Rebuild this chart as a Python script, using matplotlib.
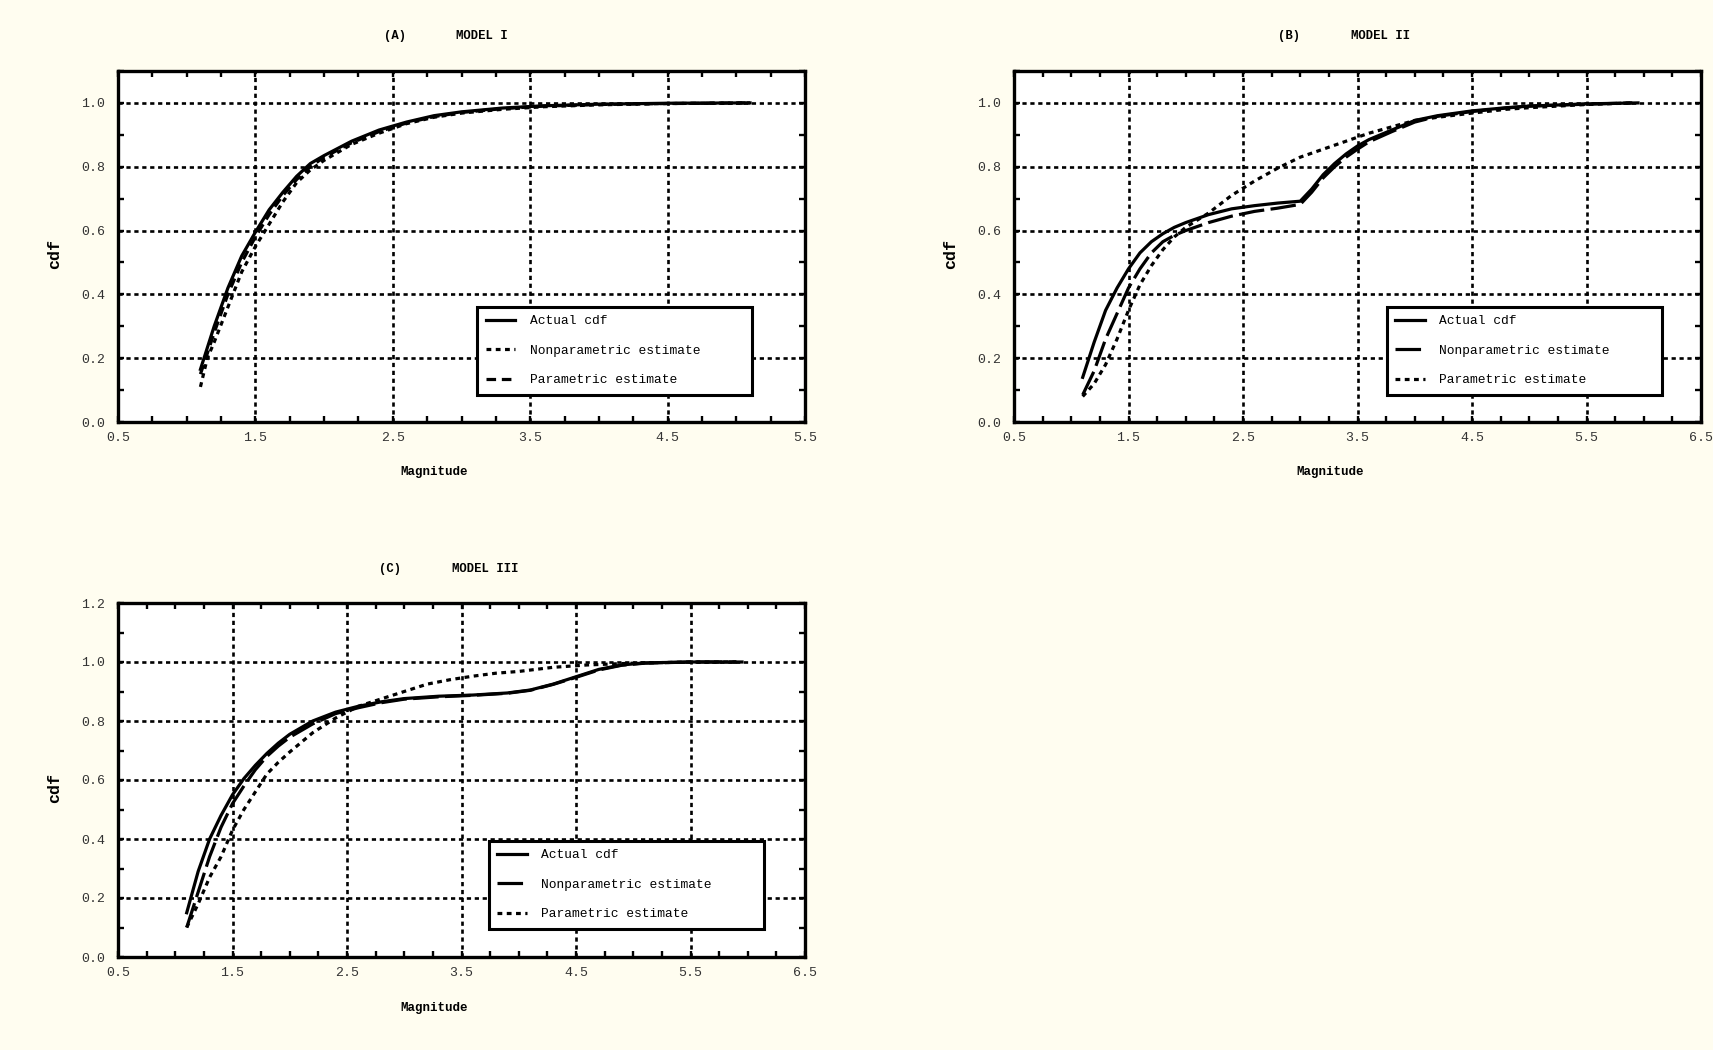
import matplotlib.pyplot as plt
from matplotlib.ticker import MultipleLocator, FixedLocator

# Panel (A) MODEL I
xa_act = [1.1, 1.2, 1.3, 1.4, 1.5, 1.6, 1.7, 1.8, 1.9, 2.0, 2.2, 2.4, 2.6, 2.8, 3.0, 3.3, 3.6, 4.0, 4.5, 5.1]
ya_act = [0.165, 0.30, 0.42, 0.52, 0.595, 0.665, 0.72, 0.77, 0.81, 0.835, 0.88, 0.915, 0.94, 0.96, 0.972, 0.984, 0.991, 0.996, 0.999, 1.0]
xa_np = [1.1, 1.15, 1.2, 1.3, 1.4, 1.5, 1.6, 1.7, 1.8, 1.9, 2.0, 2.2, 2.4, 2.6, 2.8, 3.0, 3.3, 3.6, 4.0, 4.5, 5.1]
ya_np = [0.11, 0.20, 0.25, 0.36, 0.47, 0.55, 0.62, 0.69, 0.75, 0.79, 0.82, 0.87, 0.905, 0.935, 0.955, 0.968, 0.98, 0.988, 0.994, 0.998, 1.0]
xa_par = [1.1, 1.2, 1.3, 1.4, 1.5, 1.6, 1.7, 1.8, 1.9, 2.0, 2.2, 2.4, 2.6, 2.8, 3.0, 3.3, 3.6, 4.0, 4.5, 5.1]
ya_par = [0.15, 0.28, 0.40, 0.50, 0.58, 0.65, 0.71, 0.76, 0.80, 0.83, 0.875, 0.91, 0.937, 0.957, 0.97, 0.982, 0.99, 0.995, 0.998, 1.0]

# Panel (B) MODEL II
xb_act = [1.1, 1.2, 1.3, 1.4, 1.5, 1.6, 1.7, 1.8, 1.9, 2.0, 2.2, 2.4, 2.6, 2.8, 3.0, 3.1, 3.2, 3.3, 3.4, 3.5, 3.6, 3.8, 4.0, 4.2, 4.5, 4.8, 5.0, 5.5, 5.95]
yb_act = [0.14, 0.25, 0.35, 0.42, 0.48, 0.53, 0.565, 0.59, 0.61, 0.625, 0.65, 0.668, 0.678, 0.686, 0.692, 0.73, 0.775, 0.81, 0.84, 0.865, 0.885, 0.915, 0.945, 0.96, 0.975, 0.985, 0.99, 0.997, 1.0]
xb_np = [1.1, 1.2, 1.3, 1.4, 1.5, 1.6, 1.7, 1.8, 1.9, 2.0, 2.2, 2.4, 2.6, 2.8, 3.0, 3.1, 3.2, 3.3, 3.4, 3.5, 3.6, 3.8, 4.0, 4.2, 4.5, 4.8, 5.0, 5.5, 5.9]
yb_np = [0.085, 0.16, 0.26, 0.34, 0.42, 0.48, 0.53, 0.565, 0.585, 0.60, 0.625, 0.645, 0.66, 0.67, 0.682, 0.72, 0.765, 0.80, 0.83, 0.855, 0.878, 0.91, 0.94, 0.958, 0.973, 0.984, 0.99, 0.996, 1.0]
xb_par = [1.1, 1.2, 1.3, 1.4, 1.5, 1.6, 1.7, 1.8, 1.9, 2.0, 2.2, 2.4, 2.6, 2.8, 3.0, 3.2, 3.4, 3.6, 3.8, 4.0, 4.2, 4.5, 4.8, 5.0, 5.5, 5.9]
yb_par = [0.08, 0.12, 0.18, 0.26, 0.35, 0.43, 0.49, 0.54, 0.58, 0.61, 0.655, 0.71, 0.755, 0.795, 0.83, 0.855, 0.88, 0.905, 0.925, 0.945, 0.955, 0.968, 0.98, 0.985, 0.995, 1.0]

# Panel (C) MODEL III
xc_act = [1.1, 1.2, 1.3, 1.4, 1.5, 1.6, 1.7, 1.8, 1.9, 2.0, 2.2, 2.4, 2.6, 2.8, 3.0, 3.3, 3.6, 3.9, 4.1, 4.3, 4.5, 4.7, 4.9, 5.1, 5.5, 5.95]
yc_act = [0.15, 0.29, 0.40, 0.48, 0.55, 0.605, 0.65, 0.69, 0.725, 0.755, 0.80, 0.83, 0.85, 0.865, 0.876, 0.884, 0.888, 0.895, 0.905, 0.925, 0.95, 0.975, 0.99, 0.997, 1.0, 1.0]
xc_np = [1.1, 1.2, 1.3, 1.4, 1.5, 1.6, 1.7, 1.8, 1.9, 2.0, 2.2, 2.4, 2.6, 2.8, 3.0, 3.3, 3.6, 3.9, 4.1, 4.3, 4.5, 4.7, 4.9, 5.1, 5.5, 5.9]
yc_np = [0.10, 0.22, 0.34, 0.44, 0.52, 0.58, 0.635, 0.68, 0.715, 0.745, 0.79, 0.825, 0.845, 0.862, 0.874, 0.882, 0.887, 0.894, 0.904, 0.924, 0.948, 0.973, 0.989, 0.996, 1.0, 1.0]
xc_par = [1.1, 1.2, 1.3, 1.4, 1.5, 1.6, 1.7, 1.8, 1.9, 2.0, 2.2, 2.4, 2.6, 2.8, 3.0, 3.2, 3.4, 3.6, 3.8, 4.0, 4.3, 4.6, 5.0, 5.5, 5.9]
yc_par = [0.10, 0.18, 0.27, 0.34, 0.43, 0.50, 0.56, 0.62, 0.66, 0.695, 0.76, 0.81, 0.85, 0.875, 0.90, 0.925, 0.94, 0.952, 0.962, 0.968, 0.982, 0.99, 0.996, 1.0, 1.0]

labels = ['Actual cdf', 'Nonparametric estimate', 'Parametric estimate']

MONO = 'Liberation Mono'
BG = '#FFFDF0'

dotted = (0, (1.5, 1.4))
short_dash = (0, (3.0, 1.8))
long_dash = (0, (8.0, 2.0))

fig = plt.figure(figsize=(17.13, 10.5), dpi=100, facecolor=BG)


def style_axes(ax, xmax, ymax, ytop, tag, model, tx, mx, ty, leg_x):
    ax.set_facecolor('white')
    ax.set_xlim(0.5, xmax)
    ax.set_ylim(0.0, ymax)
    ax.xaxis.set_major_locator(FixedLocator([0.5 + i for i in range(int(xmax - 0.5) + 1)]))
    ax.yaxis.set_major_locator(FixedLocator([round(0.2 * i, 1) for i in range(int(round(ytop / 0.2)) + 1)]))
    ax.xaxis.set_minor_locator(MultipleLocator(0.25))
    ax.yaxis.set_minor_locator(MultipleLocator(0.1))
    ax.set_xticklabels([f'{0.5 + i:.1f}' for i in range(int(xmax - 0.5) + 1)])
    ax.set_yticklabels([f'{0.2 * i:.1f}' for i in range(int(round(ytop / 0.2)) + 1)])
    ax.tick_params(which='both', direction='in', top=True, right=True,
                   length=4, width=1.7, color='black')
    ax.tick_params(axis='x', which='major', pad=7, labelsize=9.5, labelcolor='#333333')
    ax.tick_params(axis='y', which='major', pad=9, labelsize=9.5, labelcolor='#333333')
    for lab in ax.get_xticklabels() + ax.get_yticklabels():
        lab.set_family(MONO)
    for s in ax.spines.values():
        s.set_linewidth(2.4)
    ax.grid(True, which='major', color='black', linestyle=(0, (1.6, 1.4)), linewidth=1.9)
    ax.set_axisbelow(True)

    ax.text(tx, ty, tag, transform=ax.transAxes, ha='center', va='center',
            family=MONO, fontsize=8.8, fontweight='bold')
    ax.text(mx, ty, model, transform=ax.transAxes, ha='center', va='center',
            family=MONO, fontsize=8.8, fontweight='bold')
    ax.text(0.46, -0.143, 'Magnitude', transform=ax.transAxes, ha='center', va='center',
            family=MONO, fontsize=9, fontweight='bold')
    ax.text(-0.092, 0.478, 'cdf', transform=ax.transAxes, ha='center', va='center',
            rotation=90, family=MONO, fontsize=12, fontweight='bold')

    leg = ax.legend(loc='upper left', bbox_to_anchor=(leg_x, 0.083, 0.40, 0.245), mode='expand',
                    prop={'family': MONO, 'size': 9.3}, fancybox=False, framealpha=1,
                    edgecolor='black', borderpad=0.65, labelspacing=1.35,
                    handlelength=2.3, handletextpad=1.1, borderaxespad=0)
    leg.get_frame().set_linewidth(2.2)
    leg.set_zorder(5)


# (A)
ax1 = fig.add_axes([118 / 1713, 1 - 422 / 1050, 687 / 1713, 351 / 1050])
ax1.plot(xa_act, ya_act, color='black', lw=2.3, label=labels[0])
ax1.plot(xa_np, ya_np, color='black', lw=2.3, linestyle=dotted, label=labels[1])
ax1.plot(xa_par, ya_par, color='black', lw=2.3, linestyle=short_dash, label=labels[2])
style_axes(ax1, 5.5, 1.1, 1.0, '(A)', 'MODEL I', 0.403, 0.53, 1.10, 0.523)

# (B)
ax2 = fig.add_axes([1014 / 1713, 1 - 422 / 1050, 687 / 1713, 351 / 1050])
ax2.plot(xb_act, yb_act, color='black', lw=2.3, label=labels[0])
ax2.plot(xb_np, yb_np, color='black', lw=2.3, linestyle=long_dash, label=labels[1])
ax2.plot(xb_par, yb_par, color='black', lw=2.3, linestyle=dotted, label=labels[2])
style_axes(ax2, 6.5, 1.1, 1.0, '(B)', 'MODEL II', 0.40, 0.534, 1.10, 0.543)

# (C)
ax3 = fig.add_axes([118 / 1713, 1 - 957 / 1050, 687 / 1713, 354 / 1050])
ax3.plot(xc_act, yc_act, color='black', lw=2.3, label=labels[0])
ax3.plot(xc_np, yc_np, color='black', lw=2.3, linestyle=long_dash, label=labels[1])
ax3.plot(xc_par, yc_par, color='black', lw=2.3, linestyle=dotted, label=labels[2])
style_axes(ax3, 6.5, 1.2, 1.2, '(C)', 'MODEL III', 0.396, 0.534, 1.096, 0.54)

fig.savefig('out.png', dpi=100, facecolor=BG)
